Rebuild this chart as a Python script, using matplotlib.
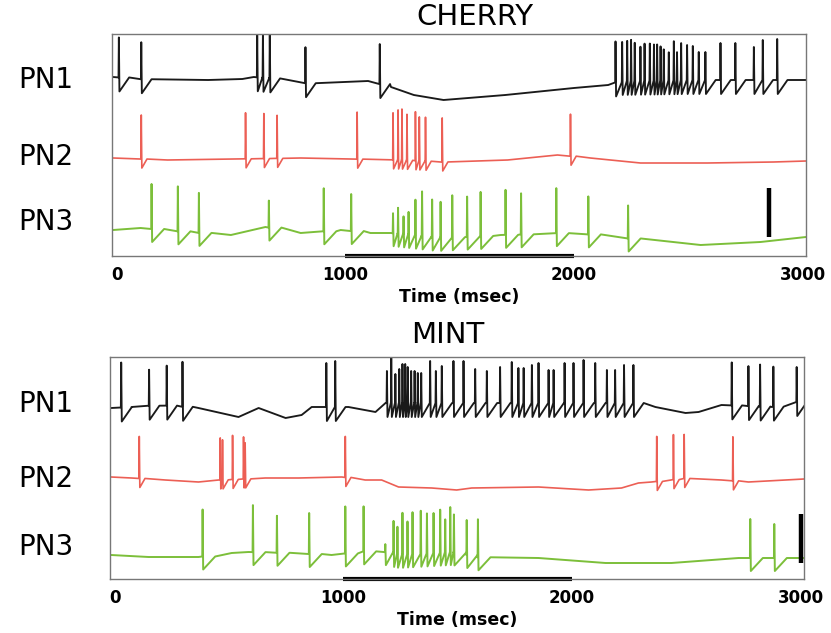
import numpy as np
import matplotlib
matplotlib.use("Agg")
import matplotlib.pyplot as plt

plt.rcParams['font.family'] = ['DejaVu Sans']

# ---- data (time in msec, voltage in arbitrary units relative to each trace's rest) ----
STIM = [1000, 2000]
XTICKS = [0, 1000, 2000, 3000]
NEURONS = ["PN1", "PN2", "PN3"]

# CHERRY
CH_PN1_BT = [-15, 150, 400, 550, 600, 700, 850, 1100, 1200, 1300, 1430, 1700, 2000, 2150, 2200, 2500, 3015]
CH_PN1_BV = [1, -2, -2, -1, 1, -1, -6, -3, -9, -17, -22, -17, -10, -7, -3, -2, -2]
CH_PN1_SP = [10, 108, 615, 640, 670, 826, 1151, 2182, 2211, 2233, 2250, 2266, 2291, 2309, 2332, 2350,
             2364, 2379, 2393, 2415, 2437, 2451, 2469, 2495, 2520, 2546, 2575, 2641, 2706, 2787, 2826, 2889]
CH_PN1_H = [40, 37, 43, 45, 45, 36, 40, 41, 39, 40, 41, 38, 34, 37, 37, 36, 36, 34, 31, 28, 39, 28, 37,
            35, 34, 28, 28, 37, 37, 33, 40, 41]

CH_PN2_BT = [-15, 223, 512, 805, 1242, 1417, 1710, 1928, 2072, 2291, 2584, 2873, 3015]
CH_PN2_BV = [1, -1, 0, 1, -1, -3, -1, 4, 1, -4, -4, -3, -2]
CH_PN2_SP = [108, 564, 644, 702, 1052, 1209, 1231, 1248, 1270, 1307, 1324, 1351, 1424, 1985]
CH_PN2_H = [44, 46, 45, 43, 47, 47, 50, 51, 46, 49, 44, 44, 44, 42]

CH_PN3_BT = [-15, 105, 300, 500, 651, 805, 980, 1110, 1200, 1400, 1680, 1941, 2116, 2291, 2554, 2816, 3015]
CH_PN3_BV = [0, 2, -2, -5, 3, -3, 0, -3, -3, -8, -5, -3, -5, -10, -15, -12, -7]
CH_PN3_SP = [153, 268, 360, 666, 906, 1026, 1209, 1231, 1255, 1277, 1307, 1336, 1380, 1417, 1468, 1533,
             1592, 1701, 1769, 1923, 2063, 2237]
CH_PN3_H = [45, 45, 40, 27, 43, 37, 20, 26, 18, 23, 36, 45, 38, 36, 42, 40, 44, 45, 41, 45, 38, 33]

# MINT
MT_PN1_BT = [-15, 74, 192, 367, 542, 630, 748, 818, 862, 1023, 1141, 1185, 1500, 1900, 2291, 2365, 2497,
             2554, 2654, 2873, 2983, 3015]
MT_PN1_BV = [0, 1, 3, 0, -9, 0, -10, -7, 1, 1, -4, 5, 5, 5, 5, 1, -5, -4, 3, 1, 6, 4]
MT_PN1_SP = [29, 151, 228, 297, 926, 965, 1191, 1210, 1228, 1245, 1259, 1271, 1282, 1297, 1312, 1326,
             1341, 1380, 1405, 1431, 1482, 1526, 1577, 1628, 1686, 1737, 1766, 1789, 1825, 1854, 1898,
             1920, 1968, 2007, 2051, 2102, 2153, 2189, 2228, 2269, 2699, 2772, 2823, 2881, 2983]
MT_PN1_H = [45, 36, 40, 45, 44, 46, 32, 45, 29, 34, 39, 39, 36, 32, 32, 30, 30, 42, 32, 37, 42, 42, 34,
            32, 36, 41, 35, 35, 38, 40, 33, 33, 40, 40, 43, 40, 33, 33, 38, 38, 43, 40, 42, 40, 35]

MT_PN2_BT = [-15, 74, 222, 367, 455, 659, 805, 994, 1096, 1168, 1242, 1387, 1496, 1562, 1854, 2073, 2217,
             2291, 2348, 2510, 2654, 2772, 3015]
MT_PN2_BV = [0, -1, -3, -5, -3, -1, -1, 0, -3, -3, -10, -11, -13, -11, -10, -13, -11, -6, -5, -1, -3, -5, -2]
MT_PN2_SP = [108, 462, 472, 516, 564, 571, 1009, 2371, 2444, 2491, 2704]
MT_PN2_H = [42, 42, 40, 44, 42, 36, 41, 45, 45, 44, 44]

MT_PN3_BT = [-15, 149, 367, 512, 586, 748, 949, 1141, 1242, 1474, 1605, 1854, 2147, 2435, 2729, 2873, 3015]
MT_PN3_BV = [0, -2, -2, 2, 3, 2, 0, 5, 0, 3, -3, -3, -8, -8, -3, -3, -3]
MT_PN3_SP = [385, 605, 710, 851, 1009, 1089, 1184, 1220, 1237, 1259, 1281, 1303, 1339, 1366, 1395, 1424,
             1446, 1468, 1484, 1540, 1589, 2780, 2885]
MT_PN3_H = [47, 47, 37, 41, 47, 45, 8, 33, 28, 42, 33, 42, 43, 40, 40, 43, 33, 45, 38, 35, 38, 39, 34]

SCALE_H = 49

COLORS = ["#1a1a1a", "#ec5f55", "#7cbf3a"]
LWS = [1.35, 1.2, 1.4]
UNDER = [14, 9, 13]
REC = [45, 25, 55]


def build(bt, bv, spikes, heights, under, rec):
    pts = [(t, v) for t, v in zip(bt, bv)
           if not any(s - 2 < t < s + rec for s in spikes)]
    for i, (s, h) in enumerate(zip(spikes, heights)):
        b = float(np.interp(s, bt, bv))
        end = s + rec
        if i + 1 < len(spikes):
            end = min(end, spikes[i + 1] - 2)
        pts += [(s - 1.5, b), (s, b + h), (s + 2.5, b - under), (end, b)]
    pts.sort()
    t, v = zip(*pts)
    return np.array(t), np.array(v)


W, H = 831, 633
fig = plt.figure(figsize=(W / 100, H / 100), dpi=100)

panels = [
    dict(title="CHERRY", tx=475, ty=17, box=(112, 34, 806, 256),
         traces=[(CH_PN1_BT, CH_PN1_BV, CH_PN1_SP, CH_PN1_H),
                 (CH_PN2_BT, CH_PN2_BV, CH_PN2_SP, CH_PN2_H),
                 (CH_PN3_BT, CH_PN3_BV, CH_PN3_SP, CH_PN3_H)],
         offs=[178, 97, 26], labs=[80, 157, 222], bar=(2855, 19)),
    dict(title="MINT", tx=448, ty=335, box=(110, 357, 804, 579),
         traces=[(MT_PN1_BT, MT_PN1_BV, MT_PN1_SP, MT_PN1_H),
                 (MT_PN2_BT, MT_PN2_BV, MT_PN2_SP, MT_PN2_H),
                 (MT_PN3_BT, MT_PN3_BV, MT_PN3_SP, MT_PN3_H)],
         offs=[171, 102, 24], labs=[404, 479, 547], bar=(3004, 16)),
]

for p in panels:
    x0, y0, x1, y1 = p["box"]
    ax = fig.add_axes([x0 / W, 1 - y1 / H, (x1 - x0) / W, (y1 - y0) / H])
    for k, (bt, bv, sp, hh) in enumerate(p["traces"]):
        t, v = build(bt, bv, sp, hh, UNDER[k], REC[k])
        ax.plot(t, v + p["offs"][k], color=COLORS[k], lw=LWS[k])
    ax.set_xlim(-20, 3015)
    ax.set_ylim(0, y1 - y0)
    ax.set_xticks(XTICKS)
    ax.set_xticklabels([str(x) for x in XTICKS], fontsize=12, fontweight='bold')
    ax.set_yticks([])
    ax.tick_params(axis='x', length=0, pad=7)
    ax.set_xlabel("Time (msec)", fontsize=12.5, fontweight='bold', labelpad=3)
    for s in ax.spines.values():
        s.set_color("#777777")
        s.set_linewidth(1.0)
    ax.plot(STIM, [0, 0], color='k', lw=3, solid_capstyle='butt', clip_on=False)
    bx, by = p["bar"]
    ax.plot([bx, bx], [by, by + SCALE_H], color='k', lw=3.2, solid_capstyle='butt', clip_on=False)
    fig.text(p["tx"] / W, 1 - p["ty"] / H, p["title"], fontsize=21, ha='center', va='center')
    for name, ly in zip(NEURONS, p["labs"]):
        fig.text(46 / W, 1 - ly / H, name, fontsize=20, ha='center', va='center')

fig.savefig("out.png", dpi=100)
